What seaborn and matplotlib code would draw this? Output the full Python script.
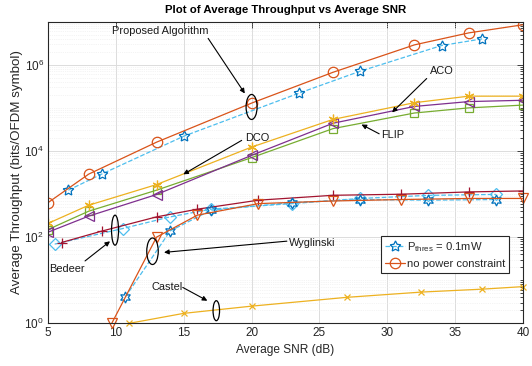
import numpy as np
import pandas as pd
import matplotlib
matplotlib.use("Agg")
import matplotlib.pyplot as plt
import matplotlib.transforms as mtransforms
from matplotlib.patches import Ellipse
from matplotlib.lines import Line2D
from matplotlib.ticker import LogLocator, FixedLocator, NullFormatter, LogFormatterSciNotation
import seaborn as sns

# ---------------- data ----------------
# Proposed algorithm
snr_prop = [5, 8, 13, 20, 26, 32, 36, 40]
thr_prop = [630, 2900, 16000, 1.29e5, 6.7e5, 2.9e6, 5.5e6, 8.5e6]
snr_prop_pt = [6.5, 9, 15, 23.5, 28, 34, 37]
thr_prop_pt = [1230, 2950, 22000, 2.2e5, 7.1e5, 2.8e6, 4.0e6]

# DCO / ACO / FLIP
snr_grp = [5, 8, 13, 20, 26, 32, 36, 40]
thr_dco = [208, 550, 1660, 12300, 54000, 1.32e5, 1.87e5, 1.87e5]
thr_aco = [130, 307, 975, 7900, 44000, 1.08e5, 1.4e5, 1.5e5]
thr_flip = [150, 400, 1230, 7000, 33000, 76000, 1.0e5, 1.16e5]

# Bedeer
snr_bed = [6, 9, 13, 16, 20.5, 26, 31, 36, 40]
thr_bed = [75, 139, 295, 445, 720, 935, 990, 1120, 1180]
snr_bed_pt = [5.5, 10.5, 14, 17, 23, 28, 33, 38]
thr_bed_pt = [69, 158, 295, 445, 600, 790, 930, 980]

# Wyglinski
snr_wyg = [9.7, 13, 16, 20.5, 26, 31, 36, 40]
thr_wyg = [1, 100, 323, 600, 690, 745, 790, 790]
snr_wyg_pt = [10.7, 14, 17, 23, 28, 33, 38]
thr_wyg_pt = [4.1, 139, 420, 635, 745, 720, 745]

# Castel
snr_cas = [11, 15, 20, 27, 32.5, 37, 40]
thr_cas = [1, 1.7, 2.5, 4.0, 5.3, 6.2, 7.1]

legend_labels = [r"P$_{\mathrm{thres}}$ = 0.1mW", "no power constraint"]

# ---------------- style ----------------
sns.set_style("white")
plt.rcParams.update({
    "font.family": ["Liberation Sans", "DejaVu Sans"],
    "mathtext.fontset": "custom",
    "mathtext.rm": "Liberation Sans",
    "mathtext.it": "Liberation Sans:italic",
    "mathtext.bf": "Liberation Sans:bold",
    "axes.edgecolor": "#262626",
    "axes.linewidth": 0.8,
    "xtick.color": "#262626",
    "ytick.color": "#262626",
    "xtick.direction": "in",
    "ytick.direction": "in",
})

C_ORANGE = "#D95319"
C_BLUE = "#0072BD"
C_LBLUE = "#4DBEEE"
C_YELLOW = "#EDB120"
C_PURPLE = "#7E2F8E"
C_GREEN = "#77AC30"
C_RED = "#A2142F"

fig = plt.figure(figsize=(5.32, 3.66), dpi=100)
ax = fig.add_axes([0.0902, 0.1167, 0.893, 0.824])

STAR5 = (5, 1, 0)
STAR6 = (6, 1, 0)
ASTER = (6, 2, 0)

def draw(x, y, color, marker, ms, ls="-", mec=None, clip=True):
    sns.lineplot(x=x, y=y, ax=ax, color=color, linestyle=ls, linewidth=0.9,
                 marker=marker, markersize=ms, markerfacecolor="none",
                 markeredgecolor=mec or color, markeredgewidth=0.9,
                 estimator=None, sort=False)
    line = ax.lines[-1]
    line.set_clip_on(clip)
    return line

# Castel
draw(snr_cas, thr_cas, C_YELLOW, "x", 5, clip=False)
# DCO / ACO / FLIP
draw(snr_grp, thr_flip, C_GREEN, "s", 5.5)
draw(snr_grp, thr_aco, C_PURPLE, "<", 6.5)
draw(snr_grp, thr_dco, C_YELLOW, ASTER, 7)
# Bedeer
draw(snr_bed_pt, thr_bed_pt, C_LBLUE, "D", 6, ls="--")
draw(snr_bed, thr_bed, C_RED, "+", 7)
# Wyglinski
draw(snr_wyg_pt, thr_wyg_pt, C_LBLUE, STAR6, 8, ls="--", mec=C_BLUE)
draw(snr_wyg, thr_wyg, C_ORANGE, "v", 7, clip=False)
# Proposed
draw(snr_prop_pt, thr_prop_pt, C_LBLUE, STAR5, 8, ls="--", mec=C_BLUE)
draw(snr_prop, thr_prop, C_ORANGE, "o", 7.5)

# ---------------- axes ----------------
ax.set_yscale("log")
ax.set_xlim(5, 40)
ax.set_ylim(1, 1e7)
ax.set_xticks([5, 10, 15, 20, 25, 30, 35, 40])
ax.yaxis.set_major_locator(FixedLocator([1, 1e2, 1e4, 1e6]))
ax.yaxis.set_major_formatter(LogFormatterSciNotation())
ax.yaxis.set_minor_locator(LogLocator(base=10, subs=np.arange(1, 10), numticks=100))
ax.yaxis.set_minor_formatter(NullFormatter())
ax.tick_params(axis="both", which="both", top=True, right=True, labelsize=8.5,
               width=0.6, pad=3)
ax.tick_params(axis="both", which="major", length=4)
ax.tick_params(axis="y", which="minor", length=2.2)
ax.grid(True, which="major", color="#dcdcdc", linewidth=0.7)
ax.grid(True, which="minor", axis="y", color="#e9e9e9", linewidth=0.5, linestyle=":")
ax.set_axisbelow(True)
for s in ax.spines.values():
    s.set_visible(True)

ax.set_xlabel("Average SNR (dB)", fontsize=8.6, color="#262626", labelpad=3)
ax.set_ylabel("Average Throughput (bits/OFDM symbol)", fontsize=9.6, color="#262626", labelpad=1)
ax.set_title("Plot of Average Throughput vs Average SNR", fontsize=8.2,
             fontweight="bold", color="black", pad=6)

# ---------------- legend ----------------
leg_handles = [
    Line2D([], [], color=C_LBLUE, linestyle="--", linewidth=0.9, marker=STAR5,
           markersize=8, markerfacecolor="none", markeredgecolor=C_BLUE, markeredgewidth=0.9),
    Line2D([], [], color=C_ORANGE, linewidth=0.9, marker="o", markersize=7.5,
           markerfacecolor="none", markeredgecolor=C_ORANGE, markeredgewidth=0.9),
]
leg = ax.legend(leg_handles, legend_labels, loc="lower right",
                bbox_to_anchor=(0.9705, 0.167), fontsize=8.1, frameon=True,
                fancybox=False, edgecolor="#262626", framealpha=1,
                handlelength=1.8, handletextpad=0.15, borderpad=0.35,
                labelspacing=0.45, borderaxespad=0)
leg.get_frame().set_linewidth(0.8)

# ---------------- annotations ----------------
arrow_kw = dict(arrowstyle="-|>", color="black", lw=0.8, mutation_scale=7,
                shrinkA=0, shrinkB=0)

def note(text, text_xy, tail, head):
    ax.text(*text_xy, text, fontsize=7.9, ha="center", va="center", color="#1a1a1a")
    ax.annotate("", xy=head, xytext=tail, arrowprops=arrow_kw)

def ring(center, w_px, h_px):
    trans = fig.dpi_scale_trans + mtransforms.ScaledTranslation(center[0], center[1], ax.transData)
    e = Ellipse((0, 0), w_px / 100, h_px / 100, transform=trans, fill=False,
                edgecolor="black", linewidth=0.9, zorder=5)
    ax.add_artist(e)

note("Proposed Algorithm", (13.25, 6.2e6), (16.8, 4.1e6), (19.5, 2.16e5))
ring((20.0, 1.05e5), 11, 25)

note("ACO", (34.0, 7.1e5), (32.9, 4.8e5), (30.35, 7.85e4))
note("FLIP", (30.4, 2.3e4), (29.4, 2.5e4), (28.1, 4.1e4))
note("DCO", (20.4, 1.96e4), (19.27, 1.76e4), (14.97, 2870))

note("Bedeer", (6.4, 17.8), (7.73, 28), (9.57, 80))
ring((9.94, 145), 7, 30)

note("Wyglinski", (24.5, 73.6), (22.6, 80.6), (13.55, 44.2))
ring((12.7, 47), 11.5, 26.5)

note("Castel", (13.75, 7.05), (14.93, 6.8), (16.74, 3.34))
ring((17.4, 1.96), 6.5, 20)

fig.savefig("out.png", dpi=100)
